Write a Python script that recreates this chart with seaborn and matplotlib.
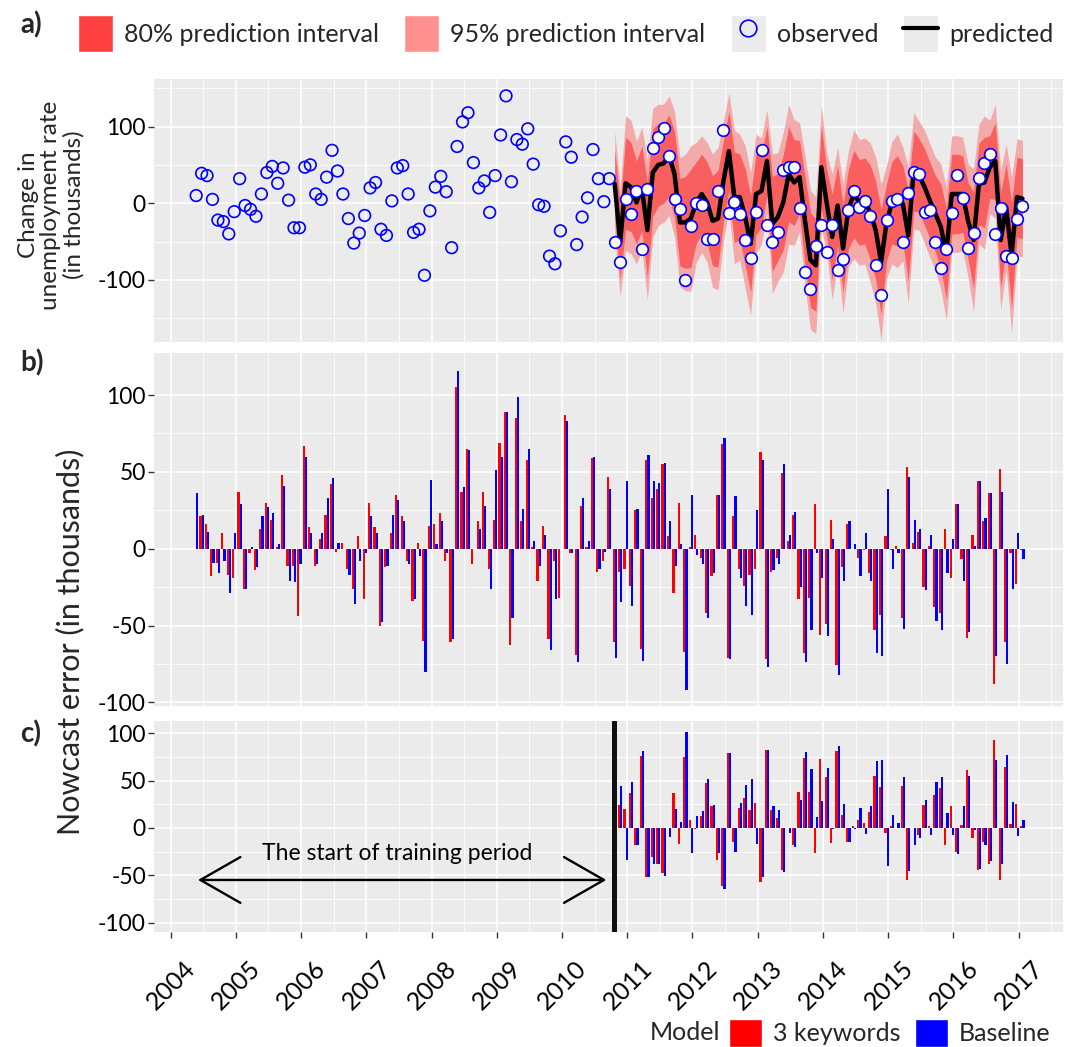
import numpy as np
import pandas as pd
import matplotlib
matplotlib.use('Agg')
import matplotlib.pyplot as plt
import seaborn as sns
from matplotlib.patches import Patch
from matplotlib.lines import Line2D
from matplotlib.ticker import MultipleLocator, FixedLocator
from matplotlib.transforms import ScaledTranslation

# ---- data (thousands) ----
observed = [10, 39, 36, 5, -22, -24, -40, -11, 32, -3, -8, -17, 12, 40, 48, 26, 46, 4, -32, -32,
            47, 50, 12, 5, 34, 69, 42, 12, -20, -52, -39, -16, 20, 27, -34, -42, 3, 46, 49, 12,
            -38, -34, -94, -10, 21, 35, 15, -58, 74, 106, 118, 53, 20, 29, -12, 36, 89, 140, 28, 83,
            77, 97, 51, -2, -4, -69, -79, -36, 80, 60, -54, -18, 7, 70, 32, 2, 32, -50, -77, 5,
            -14, 16, -60, 18, 72, 87, 98, 62, 6, -8, -100, -30, 0, -2, -47, -47, 16, 95, -13, 2,
            -14, -48, -72, -11, 69, -28, -50, -37, 43, 47, 47, -6, -90, -112, -56, -28, -63, -29, -87, -73,
            -9, 16, -5, 3, -17, -81, -120, -22, 3, 5, -50, 13, 41, 38, -12, -9, -50, -85, -60, -13,
            37, 7, -59, -39, 33, 53, 64, -40, -6, -69, -72, -20, -3]

# test period starts at month 78
predicted = [25, -51, 26, 21, 1, 19, -35, 40, 50, 52, 62, 38, -25, -25, -20, 1, 12, 1, -23, -20,
             29, 68, 8, 8, -18, -53, 12, 16, 55, -27, -18, 1, 38, 27, 34, -23, -74, -81, 47, 0,
             -44, -3, -59, -7, 12, 1, 3, -12, -35, -77, -25, 1, 3, -1, -42, 42, 36, 21, 3, -14,
             -31, -66, 12, 12, 12, -23, -48, 25, 27, 47, 55, -48, -5, -68, 8, 6]
halfwidth_95 = [69, 71, 88, 87, 80, 80, 91, 84, 79, 77, 78, 82, 84, 89, 95, 78, 76, 78, 87, 93,
                78, 76, 87, 82, 93, 93, 78, 69, 67, 91, 84, 91, 91, 82, 71, 85, 91, 89, 80, 65,
                82, 76, 84, 76, 84, 82, 82, 91, 95, 102, 74, 80, 87, 74, 89, 76, 71, 74, 74, 74,
                82, 87, 76, 76, 74, 74, 93, 78, 87, 61, 74, 91, 82, 102, 76, 76]
halfwidth_80 = [46, 48, 60, 58, 54, 55, 62, 57, 54, 52, 53, 56, 57, 60, 64, 53, 52, 53, 59, 63,
                53, 52, 59, 56, 63, 63, 53, 47, 45, 62, 57, 62, 62, 56, 48, 58, 62, 60, 54, 44,
                56, 52, 57, 52, 57, 56, 56, 62, 64, 69, 50, 54, 59, 50, 60, 52, 48, 50, 50, 50,
                56, 59, 52, 52, 50, 50, 63, 53, 59, 41, 50, 62, 56, 69, 52, 52]

# panel b: nowcast errors over the whole period
err_keywords = [0, 21, 16, -18, -9, 10, -17, -19, 37, -26, -3, -14, 13, 30, 19, 1, 48, -11, -11, -44,
                67, 14, -11, 6, 22, 42, -2, 4, -13, -26, 8, -33, 30, 14, -50, -12, 10, 35, 21, -8,
                -34, 4, -60, 15, 16, 23, -8, -61, 105, 37, 65, -10, 18, 37, -13, 19, 69, 89, -63, 85,
                18, 58, 1, -21, 15, -59, -8, -32, 87, -3, -69, 28, 1, 59, -15, -8, 47, -61, -15, -13,
                -24, 25, -65, 58, 33, 39, 55, 8, -29, 30, -67, 1, 9, -6, -42, -18, 35, 68, -71, 21,
                -13, -24, -17, -13, 63, -72, -15, -6, 49, 5, 22, -33, -68, -32, 29, -56, -49, 19, -76, -12,
                16, 0, -6, -1, -16, -53, -43, 8, -1, 2, -45, 53, 4, 11, -25, 2, -38, -42, 13, -19,
                29, -7, -58, 9, 44, 18, 36, -88, 52, -61, -3, -23, -1]
err_baseline = [36, 22, 11, -9, -16, -8, -29, 10, 29, -26, 1, -12, 21, 27, 23, 3, 41, -21, -22, -10,
                60, 10, -10, 10, 33, 46, 4, 0, -17, -36, -8, -3, 21, 10, -48, -11, 22, 32, 18, -10,
                -33, -5, -80, 45, 3, 18, -3, -59, 116, 40, 64, 0, 13, 28, -26, 51, 60, 89, -45, 99,
                26, 65, 5, -11, 9, -66, -33, 0, 83, -3, -74, 33, 5, 60, -13, -2, 39, -71, -35, 44,
                -37, 26, -73, 61, 44, 43, 56, 18, -11, 3, -92, 35, -4, -10, -45, -16, 35, 72, -72, 34,
                -19, -37, -43, 25, 58, -77, -14, -10, 55, 9, 24, -25, -74, -53, -3, -19, -57, 6, -82, -21,
                18, 3, -18, 10, -21, -68, -70, 39, -13, -3, -52, 47, 19, 13, -27, 9, -47, -53, -16, 6,
                29, -21, -54, 2, 44, 20, 36, -70, 37, -75, -26, 10, -7]

# panel c: errors after the start of training period
err_keywords_c = [70, 24, 20, 37, -18, 76, -52, -31, -38, -48, 0, 37, -17, 75, 8, -1, 13, 47, 23, -34,
                  -61, 79, -15, 21, 32, 19, 26, -57, 82, 19, 11, -45, 0, -18, 38, 74, 38, -26, 73, 54,
                  -16, 81, 14, -15, 2, 8, 5, 17, 55, 43, -5, 2, 0, 44, -55, 0, -7, 24, 2, 35,
                  42, -18, 23, -25, 3, 61, -11, -45, -15, -38, 93, -55, 64, 4, 25, 2]
err_baseline_c = [80, 44, -34, 49, -18, 81, -52, -38, -38, -51, -10, 20, 6, 101, -26, 13, 18, 52, 24, -27,
                  -65, 79, -25, 26, 45, 52, -17, -52, 82, 23, 19, -47, -5, -20, 30, 80, 62, 12, 28, 63,
                  -1, 87, 25, -15, -1, 21, -6, 23, 71, 72, -40, 14, 5, 54, -46, -18, -11, 29, -7, 49,
                  54, 16, -7, -28, 23, 55, -2, -43, -18, -35, 72, -38, 77, 27, -9, 8]

years = list(range(2004, 2018))
train_start = 2010.79
first_test = 77          # index of the first predicted month
month = 2004 + (4.7 + np.arange(len(observed))) / 12

# ---- style ----
sns.set_theme(style='darkgrid', rc={'axes.facecolor': '#EBEBEB', 'grid.color': 'white',
                                    'axes.edgecolor': '#EBEBEB'})
plt.rcParams['font.family'] = ['Lato', 'DejaVu Sans']
plt.rcParams['axes.unicode_minus'] = False

W, H = 1066, 1047
fig = plt.figure(figsize=(W / 100, H / 100), dpi=100)


def rect(l, t, r, b):
    return [l / W, 1 - b / H, (r - l) / W, (b - t) / H]


ax_a = fig.add_axes(rect(154.3, 79, 1063, 342))
ax_b = fig.add_axes(rect(154.3, 353, 1063, 706))
ax_c = fig.add_axes(rect(154.3, 721, 1063, 932))

LIGHT, DARK = '#F3AAAA', '#FA5F5F'

# ---- panel a ----
t_test = month[first_test:]
pred = np.array(predicted)
ax_a.fill_between(t_test, pred - np.array(halfwidth_95), pred + np.array(halfwidth_95),
                  color=LIGHT, lw=0, zorder=2)
ax_a.fill_between(t_test, pred - np.array(halfwidth_80), pred + np.array(halfwidth_80),
                  color=DARK, lw=0, zorder=2)
sns.lineplot(x=t_test, y=pred, ax=ax_a, color='black', lw=3.2, zorder=3)
sns.scatterplot(x=month[:first_test], y=observed[:first_test], ax=ax_a, s=70,
                facecolor='none', edgecolor='blue', linewidth=1.2, zorder=4)
sns.scatterplot(x=t_test, y=observed[first_test:], ax=ax_a, s=70,
                facecolor='white', edgecolor='blue', linewidth=1.2, zorder=4)
ax_a.set_ylim(-181, 162)
ax_a.yaxis.set_major_locator(FixedLocator([-100, 0, 100]))
ax_a.yaxis.set_minor_locator(FixedLocator([-150, -50, 50, 150]))

# ---- panel b ----
df_b = pd.DataFrame({'month': np.concatenate([month, month]),
                     'error': err_keywords + err_baseline,
                     'Model': ['3 keywords'] * len(month) + ['Baseline'] * len(month)})
sns.barplot(data=df_b, x='month', y='error', hue='Model', native_scale=True, ax=ax_b,
            palette={'3 keywords': 'red', 'Baseline': 'blue'}, saturation=1,
            errorbar=None, linewidth=0, width=0.8, legend=False, zorder=3)
ax_b.set_ylim(-102.4, 127.4)

# ---- panel c ----
df_c = pd.DataFrame({'month': np.concatenate([t_test, t_test]),
                     'error': err_keywords_c + err_baseline_c,
                     'Model': ['3 keywords'] * len(t_test) + ['Baseline'] * len(t_test)})
sns.barplot(data=df_c, x='month', y='error', hue='Model', native_scale=True, ax=ax_c,
            palette={'3 keywords': 'red', 'Baseline': 'blue'}, saturation=1,
            errorbar=None, linewidth=0, width=0.8, legend=False, zorder=3)
ax_c.set_ylim(-110, 113)
ax_c.axvline(train_start, color='#111111', lw=3.6, zorder=5)
ax_c.annotate('', xy=(2004.42, -55), xytext=(2010.68, -55),
              arrowprops=dict(arrowstyle='<->,head_length=1.8,head_width=1.03',
                              mutation_scale=16, lw=1.7, color='black',
                              shrinkA=0, shrinkB=0), zorder=6)
ax_c.text(2007.47, -34, 'The start of training period', ha='center', va='baseline',
          fontsize=16.5, color='black')

for ax in (ax_b, ax_c):
    ax.yaxis.set_major_locator(FixedLocator([-100, -50, 0, 50, 100]))
    ax.yaxis.set_minor_locator(FixedLocator([-75, -25, 25, 75]))

for ax in (ax_a, ax_b, ax_c):
    ax.set_xlim(2003.75, 2017.68)
    ax.xaxis.set_major_locator(FixedLocator(years))
    ax.xaxis.set_minor_locator(MultipleLocator(0.5))
    ax.grid(which='major', color='white', lw=1.2)
    ax.grid(which='minor', color='white', lw=0.6)
    ax.set_axisbelow(True)
    ax.set_xlabel('')
    ax.set_ylabel('')
    ax.tick_params(axis='y', which='major', left=True, length=4, width=1, color='#333333',
                   labelsize=16.5, labelcolor='black', pad=2)
    ax.tick_params(axis='both', which='minor', length=0)
    for s in ax.spines.values():
        s.set_visible(False)

for ax in (ax_a, ax_b):
    ax.tick_params(axis='x', which='both', bottom=False, labelbottom=False)

ax_c.tick_params(axis='x', which='major', bottom=True, length=4, width=1, color='#333333',
                 labelsize=18, labelcolor='black', pad=2)
ax_c.set_xticks(years)
ax_c.set_xticklabels([str(y) for y in years], rotation=45, ha='right', va='center',
                     rotation_mode='anchor')
offset = ScaledTranslation(21 / 100, -24 / 100, fig.dpi_scale_trans)
for lab in ax_c.get_xticklabels():
    lab.set_transform(lab.get_transform() + offset)

# ---- labels ----
fig.text(51 / W, 1 - 205 / H, 'Change in\nunemployment rate\n(in thousands)', rotation=90,
         ha='center', va='center', multialignment='center', fontsize=17.5, linespacing=1.1)
fig.text(70 / W, 1 - 642 / H, 'Nowcast error (in thousands)', rotation=90,
         ha='center', va='center', fontsize=22)
for lab, yy in (('a)', 25), ('b)', 363), ('c)', 734)):
    fig.text(20 / W, 1 - yy / H, lab, fontsize=20, fontweight='bold', va='center', ha='left')

# ---- legends ----
handles = [Patch(facecolor='#FF4040'), Patch(facecolor='#FF9090'),
           (Patch(facecolor='#EBEBEB'),
            Line2D([], [], marker='o', ls='', mfc='none', mec='blue', ms=12, mew=1.2)),
           (Patch(facecolor='#EBEBEB'), Line2D([], [], color='black', lw=3))]
fig.legend(handles, ['80% prediction interval', '95% prediction interval', 'observed', 'predicted'],
           ncol=4, loc='upper left', bbox_to_anchor=(78 / W, 1 - 15 / H), frameon=False,
           fontsize=18, handlelength=1.4, handleheight=1.9, handletextpad=0.45,
           columnspacing=1.0, borderpad=0, borderaxespad=0)

fig.text(650 / W, 1 - 1032 / H, 'Model', fontsize=18, va='center', ha='left')
fig.legend([Patch(facecolor='red'), Patch(facecolor='blue')], ['3 keywords', 'Baseline'],
           ncol=2, loc='lower left', bbox_to_anchor=(729 / W, 0), frameon=False,
           fontsize=18, handlelength=1.3, handleheight=1.35, handletextpad=0.45,
           columnspacing=0.6, borderpad=0, borderaxespad=0)

fig.savefig('out.png', dpi=100)
